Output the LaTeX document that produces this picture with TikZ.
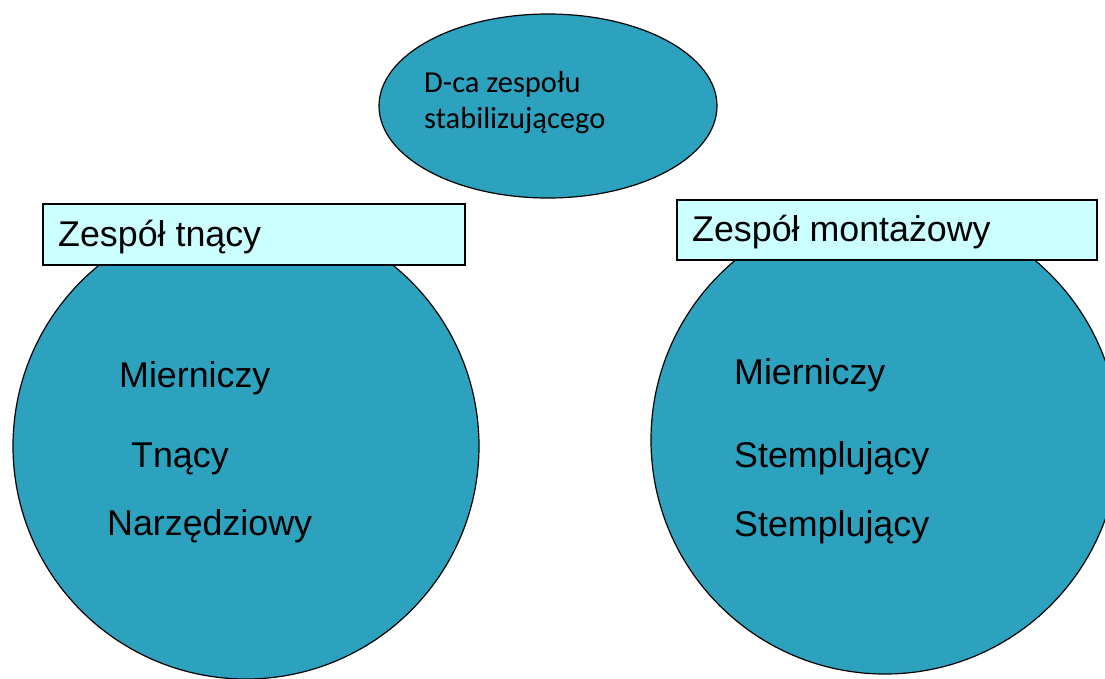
\documentclass[tikz,border=0pt]{standalone}
\usepackage{fontspec}
\setmainfont{Liberation Sans}
\newfontfamily\calfont{Carlito}
\definecolor{teal1}{RGB}{45,162,191}
\definecolor{boxfill}{RGB}{204,255,255}
\begin{document}
\begin{tikzpicture}[x=1pt,y=-1pt,
  blob/.style={draw=black,line width=1.2pt,fill=teal1},
  titlebox/.style={draw=black,line width=1.2pt,fill=boxfill},
  lbl/.style={anchor=base west,inner sep=0pt,font=\fontsize{35.8}{42}\selectfont},
  elbl/.style={anchor=base west,inner sep=0pt,font=\calfont\fontsize{30.5}{36.6}\selectfont}]
\useasboundingbox (0,0) rectangle (1105,678);
\clip (0,0) rectangle (1105,678);
% top ellipse
\draw[blob] (548,106) ellipse [x radius=169, y radius=92];
\node[elbl] (e1) at (424,92) {D-ca zespołu};
\node[elbl] (e2) at (424,128) {stabilizującego};
% circles
\draw[blob] (246,446) circle [radius=233];
\draw[blob] (885,440) circle [radius=234];
% title boxes
\draw[titlebox] (43,204) rectangle (465,265);
\node[lbl] (t1) at (58,246) {Zespół tnący};
\draw[titlebox] (677,200) rectangle (1097,260);
\node[lbl] (t2) at (692,241) {Zespół montażowy};
% left circle texts
\node[lbl] (l1) at (119,387) {Mierniczy};
\node[lbl] (l2) at (131,467) {Tnący};
\node[lbl] (l3) at (107,535) {Narzędziowy};
% right circle texts
\node[lbl] (r1) at (734,384) {Mierniczy};
\node[lbl] (r2) at (734,467) {Stemplujący};
\node[lbl] (r3) at (734,536) {Stemplujący};
\end{tikzpicture}
\end{document}
